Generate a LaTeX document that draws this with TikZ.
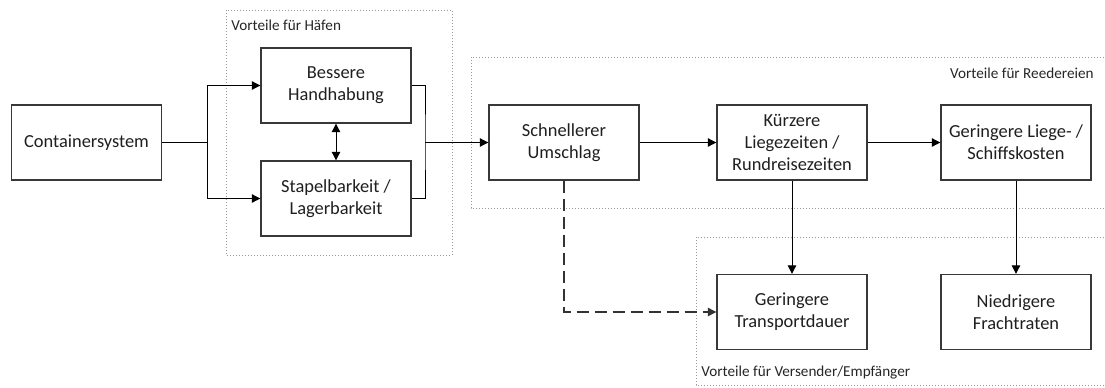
\documentclass[tikz,border=0pt]{standalone}
\usepackage{fontspec}
\setmainfont{Carlito}
\usepackage{tikz}
\usetikzlibrary{arrows.meta}

\begin{document}
\begin{tikzpicture}[x=0.5pt, y=-0.5pt,
        box/.style={draw=black!78, line width=0.7pt, fill=white, text=black!88,
                    minimum width=75pt, minimum height=37.5pt, inner sep=0pt,
                    align=center, font=\fontsize{9.2}{11}\selectfont},
        frame/.style={draw=black!40, densely dotted, line width=0.5pt},
        grp/.style={text=black!85, inner sep=1pt, font=\fontsize{7.6}{9}\selectfont},
        arr/.style={-{Triangle[length=4.2pt, width=4.2pt]}, line width=0.5pt},
        arrs/.style={{Triangle[length=4.2pt, width=4.2pt]}-{Triangle[length=4.2pt, width=4.2pt]}, line width=0.5pt}
                            ]
        \useasboundingbox (0,0) rectangle (1105,387);
        % groups
        \draw[frame] (226,10) rectangle (452,255);
        \draw[frame] (471,57) rectangle (1130,208);
        \draw[frame] (696,237) rectangle (1130,385);
        \node[grp, anchor=west] (haefen) at (229,25) {Vorteile für Häfen};
        \node[grp, anchor=east] (reeder) at (1096,73) {Vorteile für Reedereien};
        \node[grp, anchor=west] (versender) at (699,373) {Vorteile für Versender/Empfänger};
        % boxes
        \node[box] (cont) at (86.5,142.5) {Containersystem};
        \node[box] (hand) at (336,85.5) {Bessere\\Handhabung};
        \node[box] (stapel) at (336,198.5) {Stapelbarkeit /\\Lagerbarkeit};
        \node[box] (umschlag) at (564,142.5) {Schnellerer\\Umschlag};
        \node[box] (liege) at (792,142.5) {Kürzere\\Liegezeiten /\\Rundreisezeiten};
        \node[box] (kosten) at (1016,142.5) {Geringere Liege- /\\Schiffskosten};
        \node[box] (dauer) at (792,312) {Geringere\\Transportdauer};
        \node[box] (fracht) at (1016,312) {Niedrigere\\Frachtraten};
        % connectors
        \coordinate (forkL) at (207,142.5);
        \coordinate (forkR) at (425,142.5);
        \draw[line width=0.5pt] (cont) -- (forkL);
        \draw[arr] (forkL) |- (hand);
        \draw[arr] (forkL) |- (stapel);
        \draw[line width=0.5pt] (hand.east) -| (forkR) |- (stapel.east);
        \draw[arr] (forkR) -- (umschlag);
        \draw[arrs] (hand) -- (stapel);
        \draw[arr] (umschlag) -- (liege);
        \draw[arr] (liege) -- (kosten);
        \draw[arr] (liege) -- (dauer);
        \draw[arr] (kosten) -- (fracht);
        \draw[arr, black!80, dash pattern=on 6pt off 3pt, line width=0.6pt] (umschlag) |- (dauer);
    \end{tikzpicture}
\end{document}
